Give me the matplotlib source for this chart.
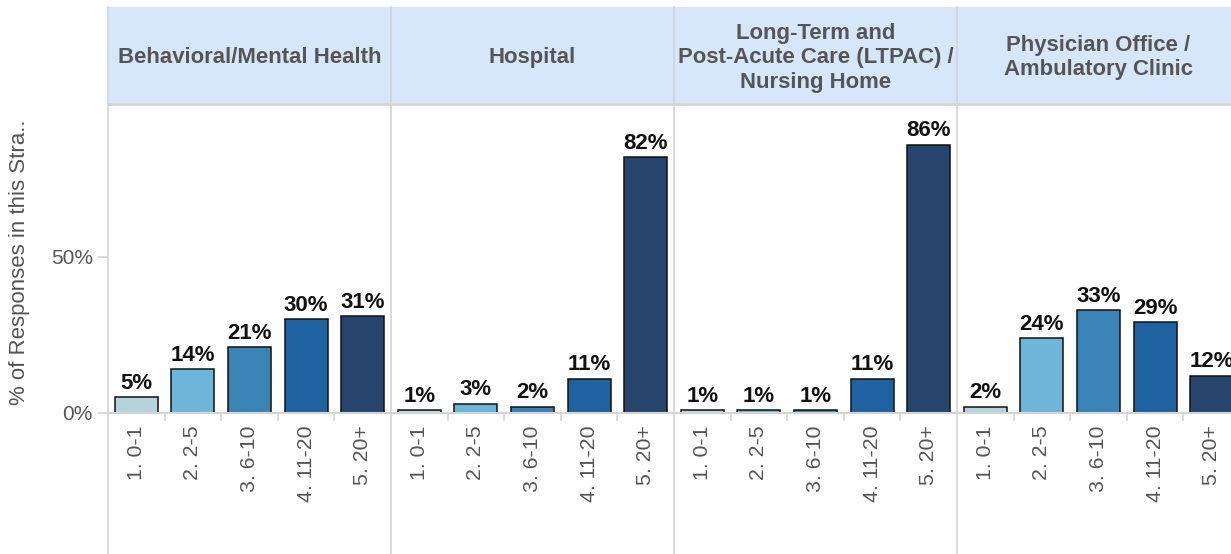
import matplotlib.pyplot as plt
from matplotlib.lines import Line2D

# data
panels = ['Behavioral/Mental Health',
          'Hospital',
          'Long-Term and\nPost-Acute Care (LTPAC) /\nNursing Home',
          'Physician Office /\nAmbulatory Clinic']
categories = ['1. 0-1', '2. 2-5', '3. 6-10', '4. 11-20', '5. 20+']
behavioral = [5, 14, 21, 30, 31]
hospital = [1, 3, 2, 11, 82]
ltpac = [1, 1, 1, 11, 86]
physician = [2, 24, 33, 29, 12]
values = [behavioral, hospital, ltpac, physician]

colors = ['#b4d3da', '#6db6d9', '#3a84b5', '#1f62a0', '#26446c']
grid_gray = '#d4d4d4'
text_gray = '#555555'

plt.rcParams['font.family'] = ['Liberation Sans', 'DejaVu Sans']

W, H = 1231, 554
fig = plt.figure(figsize=(W / 100, H / 100), dpi=100)


def box(x0, y0, x1, y1):
    return [x0 / W, 1 - y1 / H, (x1 - x0) / W, (y1 - y0) / H]


lefts = [108, 391, 674, 957]
pw = 283
head_top, head_bot = 7, 103
plot_top, plot_bot = 104, 413

for i, (name, vals) in enumerate(zip(panels, values)):
    x0 = lefts[i]
    # header cell
    hax = fig.add_axes(box(x0, head_top, x0 + pw, head_bot))
    hax.set_facecolor('#d6e6fb')
    hax.set_xticks([])
    hax.set_yticks([])
    for s in hax.spines.values():
        s.set_visible(False)
    hax.text(0.5, 0.47, name, ha='center', va='center', fontsize=15.9,
             fontweight='bold', color=text_gray, linespacing=1.2,
             transform=hax.transAxes)

    ax = fig.add_axes(box(x0, plot_top, x0 + pw, plot_bot))
    x = range(len(categories))
    ax.bar(x, vals, width=0.76, color=colors, edgecolor='#111111', linewidth=1.1)
    for xi, v in zip(x, vals):
        ax.annotate(f'{v}%', (xi, v), xytext=(0, 6), textcoords='offset points',
                    ha='center', va='baseline', fontsize=16, fontweight='bold',
                    color='#111111')
    ax.set_xlim(-0.5, 4.5)
    ax.set_ylim(0, 99)
    for s in ['top', 'right', 'left']:
        ax.spines[s].set_visible(False)
    ax.spines['bottom'].set_color(grid_gray)
    ax.spines['bottom'].set_linewidth(1.5)
    ax.set_xticks(list(x))
    ax.set_xticklabels(categories, rotation=90, fontsize=15.3, color=text_gray)
    ax.tick_params(axis='x', which='major', length=0, pad=9)
    ax.set_xticks([0.5, 1.5, 2.5, 3.5], minor=True)
    ax.tick_params(axis='x', which='minor', length=6, color=grid_gray, width=1.2)
    if i == 0:
        ax.set_yticks([0, 50])
        ax.set_yticklabels(['0%', '50%'], fontsize=15, color=text_gray)
        ax.tick_params(axis='y', length=7, color=grid_gray, width=1.2, pad=4)
    else:
        ax.set_yticks([])

# header bottom border and panel separators
fig.add_artist(Line2D([lefts[0] / W, 1], [1 - 104 / H, 1 - 104 / H],
                      color=grid_gray, linewidth=2, transform=fig.transFigure))
for x0 in lefts:
    fig.add_artist(Line2D([x0 / W, x0 / W], [0, 1 - head_top / H],
                          color=grid_gray, linewidth=1.2, transform=fig.transFigure))

fig.text(20 / W, 1 - 262 / H, '% of Responses in this Stra..', rotation=90,
         ha='center', va='center', fontsize=16, color=text_gray)

fig.savefig('out.png', dpi=100)
